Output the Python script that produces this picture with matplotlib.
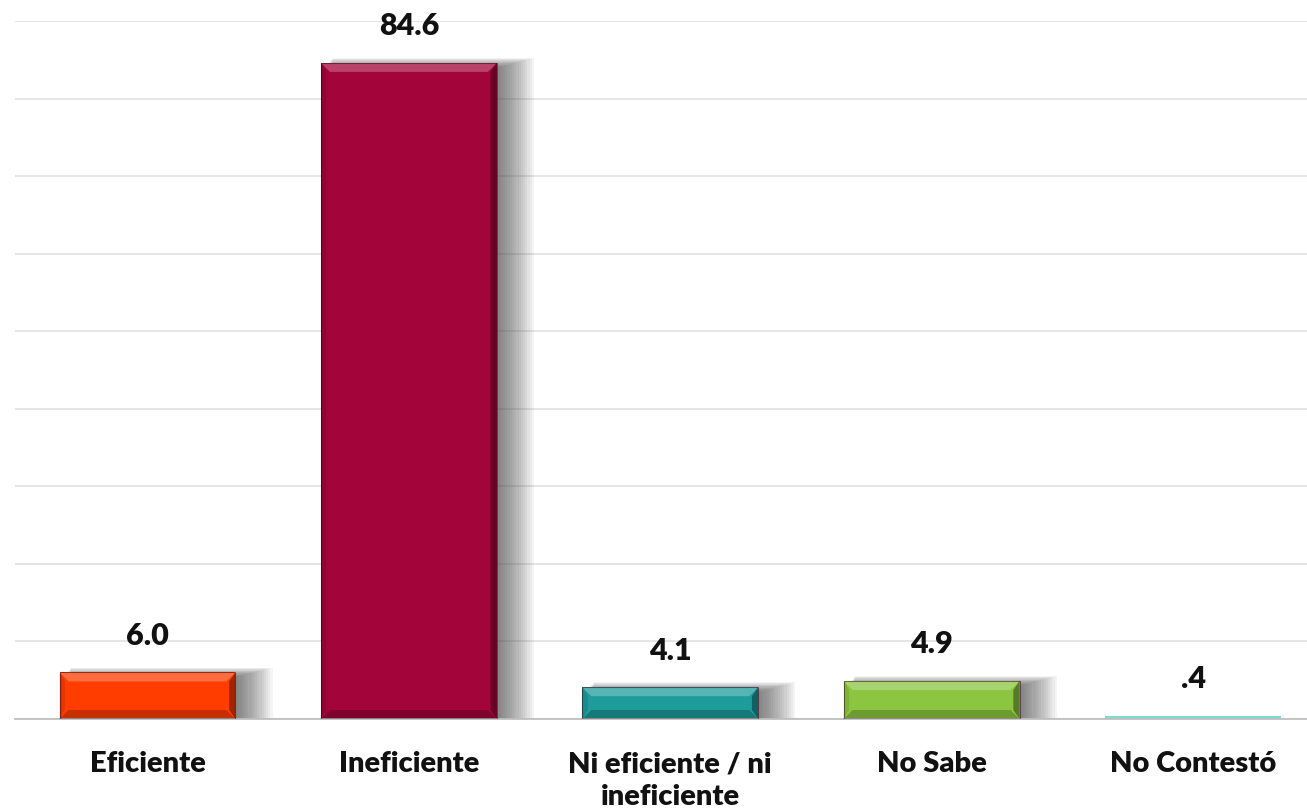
import matplotlib
matplotlib.use("Agg")
import matplotlib.pyplot as plt
from matplotlib.patches import Rectangle, Polygon
import numpy as np

categories = ["Eficiente", "Ineficiente", "Ni eficiente / ni\nineficiente", "No Sabe", "No Contestó"]
values = [6.0, 84.6, 4.1, 4.9, 0.4]
value_labels = ["6.0", "84.6", "4.1", "4.9", ".4"]
colors = ["#FF3D00", "#A3053A", "#1E9B9B", "#8CC640", "#7DDCD0"]

W, H = 1307, 812
fig = plt.figure(figsize=(W / 100, H / 100), dpi=100)
ax = fig.add_axes([15 / W, 1 - 720 / H, 1 - 15 / W, (720 - 22) / H])

ax.set_ylim(0, 90)
ax.set_xlim(-0.507, 4.436)

# pixel -> data conversion helpers
px_x = (4.436 + 0.507) / (W - 15)
px_y = 90 / (720 - 22)

ax.set_yticks(np.arange(0, 91, 10))
ax.yaxis.grid(True, color="#E3E3E3", linewidth=1.3)
ax.set_axisbelow(True)
for s in ["top", "right", "left"]:
    ax.spines[s].set_visible(False)
ax.spines["bottom"].set_color("#BFBFBF")
ax.spines["bottom"].set_linewidth(1.3)
ax.tick_params(axis="y", left=False, labelleft=False)
ax.tick_params(axis="x", bottom=False, pad=19)

x = np.arange(len(categories))
width = 0.673

# soft drop shadow to the right of each bar (stacked translucent rectangles)
for xi, v in zip(x, values):
    if v < 1:
        continue
    x0 = xi - width / 2 + 4 * px_x
    for k in range(16):
        r = k * 1.7
        ax.add_patch(Rectangle(
            (x0 + r * 0.3 * px_x, 0),
            width + r * 1.0 * px_x,
            max(v + (r * 0.35 - 4) * px_y, 0),
            facecolor="#3a3a3a", alpha=0.05, edgecolor="none", zorder=1.5))

bars = ax.bar(x, values, width=width, color=colors, zorder=2, edgecolor="none")

# bevel edges on each bar
b = 9
for bar, c in zip(bars, colors):
    x0, w, h = bar.get_x(), bar.get_width(), bar.get_height()
    x1 = x0 + w
    bx, by = b * px_x, b * px_y
    if h / px_y < 3 * b:
        continue
    top = Polygon([(x0, h), (x1, h), (x1 - bx, h - by), (x0 + bx, h - by)],
                  closed=True, facecolor="white", alpha=0.25, edgecolor="none", zorder=3)
    right = Polygon([(x1, h), (x1, 0), (x1 - bx * 0.7, by), (x1 - bx * 0.7, h - by)],
                    closed=True, facecolor="black", alpha=0.38, edgecolor="none", zorder=3)
    bottom = Polygon([(x0, 0), (x1, 0), (x1 - bx, by), (x0 + bx, by)],
                     closed=True, facecolor="black", alpha=0.22, edgecolor="none", zorder=3)
    left = Polygon([(x0, 0), (x0, h), (x0 + bx * 0.6, h - by), (x0 + bx * 0.6, by)],
                   closed=True, facecolor="black", alpha=0.1, edgecolor="none", zorder=3)
    for p in (top, right, bottom, left):
        ax.add_patch(p)
    ax.add_patch(Rectangle((x0, 0), w, h, fill=False, edgecolor="#2a0010", linewidth=0.8,
                           alpha=0.5, zorder=3.5))

font = "Lato"
for xi, v, lab in zip(x, values, value_labels):
    ax.annotate(lab, (xi, v), xytext=(0, 27), textcoords="offset points",
                ha="center", va="center", fontsize=22, fontweight="heavy",
                family=font, color="#111111", annotation_clip=False)

ax.set_xticks(x)
ax.set_xticklabels(categories, fontsize=21, fontweight="heavy", family=font,
                   color="#111111", linespacing=1.3)

fig.savefig("out.png", dpi=100)
